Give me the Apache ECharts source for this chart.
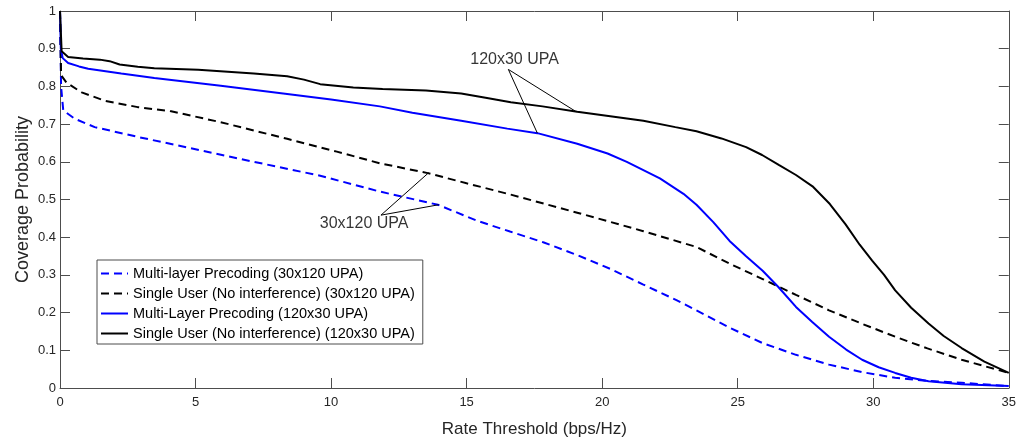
<!DOCTYPE html>
<html>
<head>
<meta charset="utf-8">
<script src="https://cdn.jsdelivr.net/npm/echarts@6/dist/echarts.min.js"></script>
<style>html,body{margin:0;padding:0;background:#fff;}#c{width:1019px;height:443px;}</style>
</head>
<body>
<div id="c"></div>
<script>
// ---- data (x: rate threshold bps/Hz, y: coverage probability) ----
var xTicks = [0, 5, 10, 15, 20, 25, 30, 35];
var yTicks = [0, 0.1, 0.2, 0.3, 0.4, 0.5, 0.6, 0.7, 0.8, 0.9, 1];

var seriesNames = [
  'Multi-layer Precoding (30x120 UPA)',
  'Single User (No interference) (30x120 UPA)',
  'Multi-Layer Precoding (120x30 UPA)',
  'Single User (No interference) (120x30 UPA)'
];

var mlp30x120 = [[0,1],[0.04,0.80],[0.12,0.736],[0.55,0.714],[1.28,0.692],[2.87,0.666],[4.7,0.638],[7.15,0.600],[9.6,0.563],[11.8,0.521],[13.94,0.486],[15.41,0.443],[16.6,0.415],[17.85,0.386],[19.1,0.352],[20.3,0.316],[21.5,0.275],[22.74,0.233],[23.48,0.206],[24.7,0.160],[25.92,0.119],[27.15,0.088],[28.37,0.062],[29.6,0.042],[30.81,0.027],[32,0.019],[33.26,0.014],[35,0.005]];

var su30x120 = [[0,1],[0.04,0.83],[0.24,0.81],[0.8,0.784],[1.65,0.762],[2.87,0.745],[4.1,0.734],[5.93,0.705],[8.38,0.661],[10.21,0.627],[11.8,0.596],[13.57,0.570],[15,0.543],[16.63,0.513],[19.08,0.465],[21.52,0.416],[23.48,0.374],[24.7,0.33],[25.92,0.289],[27.15,0.247],[28.37,0.206],[29.6,0.17],[30.81,0.136],[32,0.105],[33.26,0.075],[34.1,0.058],[35,0.040]];

var mlp120x30 = [[0,1],[0.03,0.9],[0.1,0.875],[0.3,0.862],[0.7,0.853],[1.04,0.847],[2.26,0.834],[3.48,0.822],[5.93,0.802],[8.38,0.78],[10,0.765],[11.8,0.747],[13,0.73],[14.8,0.709],[16.5,0.688],[17.61,0.676],[19.08,0.648],[20.2,0.622],[20.91,0.600],[22.13,0.556],[23.0,0.515],[23.48,0.486],[24.1,0.44],[24.7,0.390],[25.3,0.35],[25.92,0.311],[26.5,0.268],[27.15,0.215],[27.75,0.175],[28.37,0.136],[29,0.102],[29.59,0.075],[30.2,0.055],[30.81,0.040],[31.4,0.027],[32.04,0.018],[33.26,0.010],[35,0.005]];

var su120x30 = [[0,1],[0.06,0.893],[0.3,0.878],[0.85,0.874],[1.47,0.871],[1.83,0.867],[2.2,0.858],[2.87,0.852],[3.48,0.848],[5.1,0.844],[7.15,0.834],[8.38,0.827],[9.0,0.818],[9.6,0.806],[10.82,0.797],[11.9,0.793],[13.5,0.789],[14.8,0.781],[15.7,0.77],[16.63,0.758],[17.8,0.747],[19.08,0.733],[20.3,0.721],[21.52,0.709],[22.7,0.692],[23.48,0.681],[24.4,0.662],[25.31,0.639],[25.9,0.618],[26.53,0.591],[27.15,0.565],[27.76,0.535],[28.4,0.488],[28.98,0.434],[29.5,0.38],[29.96,0.338],[30.4,0.300],[30.81,0.259],[31.4,0.213],[32.04,0.171],[32.6,0.138],[33.26,0.106],[34.1,0.070],[35,0.040]];

// annotations (data coordinates)
var note120Text = '120x30 UPA';
var note120Pos = [16.77, 0.871];
var note120Lines = [[17.61,0.676],[16.54,0.845],[19.04,0.733]];
var note30Text = '30x120 UPA';
var note30Pos = [11.22, 0.436];
var note30Lines = [[13.6,0.571],[11.84,0.4585],[13.97,0.486]];

// ---- chart ----
var FONT = 'Liberation Sans, Arial, Helvetica, sans-serif';
var AX = '#4d4d4d';
var chart = echarts.init(document.getElementById('c'), null, {renderer: 'canvas', width: 1019, height: 443});

function axisBase(min, max, interval, pos, showLabel) {
  return {
    type: 'value', min: min, max: max, interval: interval, position: pos,
    splitLine: {show: false},
    axisLine: {show: true, onZero: false, lineStyle: {color: AX, width: 1}},
    axisTick: {show: true, inside: true, length: 10, lineStyle: {color: AX, width: 1}},
    axisLabel: {show: showLabel, color: '#262626', fontSize: 13, fontFamily: FONT}
  };
}

var xBottom = axisBase(xTicks[0], xTicks[xTicks.length-1], xTicks[1]-xTicks[0], 'bottom', true);
xBottom.axisLabel.margin = 8;
xBottom.name = 'Rate Threshold (bps/Hz)';
xBottom.nameLocation = 'middle';
xBottom.nameGap = 33;
xBottom.nameMoveOverlap = false;
xBottom.nameTextStyle = {color: '#262626', fontSize: 17, fontFamily: FONT, verticalAlign: 'top'};
var xTop = axisBase(xTicks[0], xTicks[xTicks.length-1], xTicks[1]-xTicks[0], 'top', false);

var yLeft = axisBase(yTicks[0], yTicks[yTicks.length-1], 0.1, 'left', true);
yLeft.axisLabel.margin = 4;
yLeft.name = 'Coverage Probability';
yLeft.nameLocation = 'middle';
yLeft.nameGap = 28;
yLeft.nameMoveOverlap = false;
yLeft.nameTextStyle = {color: '#262626', fontSize: 18, fontFamily: FONT};
var yRight = axisBase(yTicks[0], yTicks[yTicks.length-1], 0.1, 'right', false);

function lineSeries(name, data, color, dashed) {
  return {
    name: name, type: 'line', data: data, symbol: 'none', showSymbol: false,
    smooth: false,
    lineStyle: {color: color, width: 2, type: dashed ? [8, 5] : 'solid'},
    itemStyle: {color: color},
    animation: false, z: 3
  };
}

function annoLine(data) {
  return {
    type: 'line', data: data, symbol: 'none', silent: true, smooth: false,
    lineStyle: {color: '#000', width: 1}, animation: false, z: 4, legendHoverLink: false
  };
}
function annoText(pos, text) {
  return {
    type: 'scatter', data: [pos], symbolSize: 1, silent: true,
    itemStyle: {color: 'rgba(0,0,0,0)'},
    label: {show: true, position: 'inside', formatter: text, color: '#000', fontSize: 16, fontFamily: FONT},
    animation: false, z: 5
  };
}

chart.setOption({
  backgroundColor: '#fff',
  animation: false,
  grid: {left: 60, width: 954, top: 11, height: 381, containLabel: false},
  xAxis: [xBottom, xTop],
  yAxis: [yLeft, yRight],
  legend: {
    data: seriesNames,
    orient: 'vertical', left: 97, top: 260,
    itemWidth: 27, itemHeight: 14, itemGap: 5,
    padding: [6, 8, 3, 3],
    borderColor: '#4d4d4d', borderWidth: 1, backgroundColor: '#fff',
    textStyle: {color: '#000', fontSize: 14.5, fontFamily: FONT},
    itemStyle: {opacity: 0}
  },
  series: [
    lineSeries(seriesNames[0], mlp30x120, '#0000ff', true),
    lineSeries(seriesNames[1], su30x120, '#000000', true),
    lineSeries(seriesNames[2], mlp120x30, '#0000ff', false),
    lineSeries(seriesNames[3], su120x30, '#000000', false),
    annoLine(note120Lines),
    annoLine(note30Lines),
    annoText(note120Pos, note120Text),
    annoText(note30Pos, note30Text)
  ]
});
</script>
</body>
</html>
